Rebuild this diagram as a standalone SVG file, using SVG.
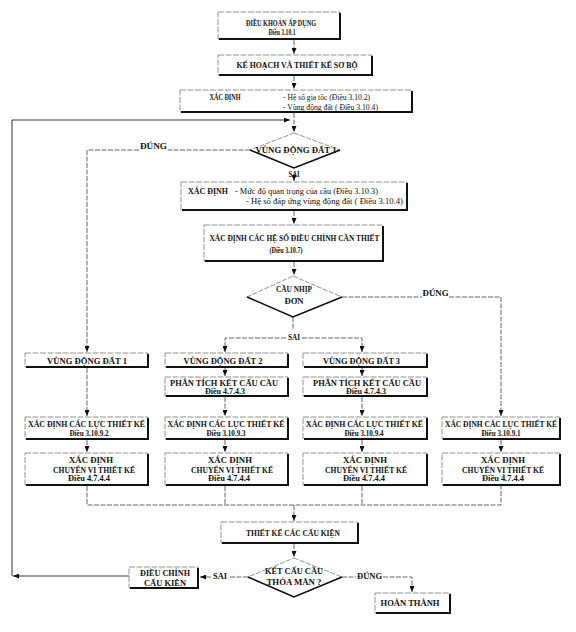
<svg xmlns="http://www.w3.org/2000/svg" width="576" height="632" viewBox="0 0 576 632">
<defs>
<marker id="ar" markerUnits="userSpaceOnUse" markerWidth="6" markerHeight="5" refX="6" refY="2.5" orient="auto"><path d="M0,0 L6,2.5 L0,5 z" fill="#111"/></marker>
<style>
.bx{fill:#fff;stroke:#777;stroke-width:0.8;stroke-dasharray:6 1.5}
.sh{fill:none;stroke:#111;stroke-width:2}
.ln{fill:none;stroke:#555;stroke-width:0.9;stroke-dasharray:5 1.5}
.lp{fill:none;stroke:#333;stroke-width:1}
.dm{fill:#fff;stroke:#777;stroke-width:0.8;stroke-dasharray:5 1.5}
.db{fill:none;stroke:#111;stroke-width:1.5}
text{font-family:"Liberation Serif","Times New Roman",serif;fill:#111;text-anchor:middle;font-weight:bold;font-size:8.5px}
.s{font-size:7.5px}
.l{text-anchor:start;font-weight:normal;font-size:8px}
</style>
</defs>
<rect width="576" height="632" fill="#fff"/>

<g id="connectors">
<path class="ln" d="M294,40 V54" marker-end="url(#ar)"/>
<path class="ln" d="M294,76 V89" marker-end="url(#ar)"/>
<path class="ln" d="M294,113 V132" marker-end="url(#ar)"/>
<path class="lp" d="M129,576 H13" marker-end="url(#ar)"/>
<path class="lp" d="M12,576 V120 H290" marker-end="url(#ar)"/>
<path class="ln" d="M250,150 H168"/>
<path class="ln" d="M139,150 H87 V352" marker-end="url(#ar)"/>
<path class="ln" d="M294,178 V181" marker-end="url(#ar)"/>
<path class="ln" d="M294,211 V224" marker-end="url(#ar)"/>
<path class="ln" d="M294,262 V275" marker-end="url(#ar)"/>
<path class="ln" d="M342,297 H422"/>
<path class="ln" d="M449,297 H501 V416" marker-end="url(#ar)"/>
<path class="ln" d="M293,317 V330"/>
<path class="ln" d="M286,338 H225 V352" marker-end="url(#ar)"/>
<path class="ln" d="M302,338 H362 V352" marker-end="url(#ar)"/>
<path class="ln" d="M87,368 V416" marker-end="url(#ar)"/>
<path class="ln" d="M87,440 V452" marker-end="url(#ar)"/>
<path class="ln" d="M225,368 V376" marker-end="url(#ar)"/>
<path class="ln" d="M225,397 V416" marker-end="url(#ar)"/>
<path class="ln" d="M225,440 V452" marker-end="url(#ar)"/>
<path class="ln" d="M362,368 V376" marker-end="url(#ar)"/>
<path class="ln" d="M362,397 V416" marker-end="url(#ar)"/>
<path class="ln" d="M362,440 V452" marker-end="url(#ar)"/>
<path class="ln" d="M501,440 V452" marker-end="url(#ar)"/>
<path class="ln" d="M87,486 V505 H501 V486 M225,486 V505 M362,486 V505"/>
<path class="ln" d="M294,505 V521" marker-end="url(#ar)"/>
<path class="ln" d="M294,544 V557" marker-end="url(#ar)"/>
<path class="ln" d="M248,577 H229"/>
<path class="ln" d="M211,577 H200" marker-end="url(#ar)"/>
<path class="ln" d="M342,577 H356"/>
<path class="ln" d="M383,577 H412 V592" marker-end="url(#ar)"/>
<text x="153.5" y="149" textLength="27" lengthAdjust="spacingAndGlyphs">ĐÚNG</text>
<text x="294" y="177" textLength="11" lengthAdjust="spacingAndGlyphs">SAI</text>
<text x="435.5" y="296" textLength="26" lengthAdjust="spacingAndGlyphs">ĐÚNG</text>
<text x="294" y="340" textLength="12" lengthAdjust="spacingAndGlyphs">SAI</text>
<text x="220" y="579" textLength="14" lengthAdjust="spacingAndGlyphs">SAI</text>
<text x="369.5" y="579" textLength="25" lengthAdjust="spacingAndGlyphs">ĐÚNG</text>
</g>

<g id="n1">
<rect class="bx" x="218" y="12" width="122" height="27"/>
<path class="sh" d="M340,13 V39 H219"/>
<text x="281" y="26" textLength="70" lengthAdjust="spacingAndGlyphs">ĐIỀU KHOẢN ÁP DỤNG</text>
<text class="s" x="282" y="34.5" textLength="27" lengthAdjust="spacingAndGlyphs">Điều 3.10.1</text>
</g>

<g id="n2">
<rect class="bx" x="218" y="55" width="154" height="20"/>
<path class="sh" d="M372,56 V75 H219"/>
<text x="297" y="68" textLength="121" lengthAdjust="spacingAndGlyphs">KẾ HOẠCH VÀ THIẾT KẾ SƠ BỘ</text>
</g>

<g id="n3">
<rect class="bx" x="180" y="90" width="232" height="22"/>
<path class="sh" d="M412,91 V112 H181"/>
<text x="225" y="100" textLength="31" lengthAdjust="spacingAndGlyphs">XÁC ĐỊNH</text>
<text class="l" x="283" y="100" textLength="87" lengthAdjust="spacingAndGlyphs">- Hệ số gia tốc (Điều 3.10.2)</text>
<text class="l" x="283" y="109.5" textLength="95" lengthAdjust="spacingAndGlyphs">- Vùng động đất ( Điều 3.10.4)</text>
</g>

<g id="n4">
<polygon class="dm" points="294,133 340,150 294,168 250,150"/>
<path class="db" d="M250,150 L294,168 L340,150"/>
<text x="296" y="153" textLength="81" lengthAdjust="spacingAndGlyphs">VÙNG ĐỘNG ĐẤT 1</text>
</g>

<g id="n5">
<rect class="bx" x="181" y="182" width="226" height="28"/>
<path class="sh" d="M407,183 V210 H182"/>
<text x="188" y="194" style="text-anchor:start" textLength="40" lengthAdjust="spacingAndGlyphs">XÁC ĐỊNH</text>
<text class="l" x="235" y="194" textLength="143" lengthAdjust="spacingAndGlyphs">- Mức độ quan trọng của cầu (Điều 3.10.3)</text>
<text class="l" x="246" y="204" textLength="157" lengthAdjust="spacingAndGlyphs">- Hệ số đáp ứng vùng động đất ( Điều 3.10.4)</text>
</g>

<g id="n6">
<rect class="bx" x="204" y="225" width="179" height="36"/>
<path class="sh" d="M383,226 V261 H205"/>
<text x="294.5" y="241" textLength="170" lengthAdjust="spacingAndGlyphs">XÁC ĐỊNH CÁC HỆ SỐ ĐIỀU CHỈNH CẦN THIẾT</text>
<text class="s" x="286" y="253" textLength="33" lengthAdjust="spacingAndGlyphs">(Điều 3.10.7)</text>
</g>

<g id="n7">
<polygon class="dm" points="293,276 342,297 293,317 247,297"/>
<path class="db" d="M247,297 L293,317 L342,297"/>
<text x="294" y="292" textLength="36" lengthAdjust="spacingAndGlyphs">CẦU NHỊP</text>
<text x="294" y="304" textLength="19" lengthAdjust="spacingAndGlyphs">ĐƠN</text>
</g>

<g id="c1r1">
<rect class="bx" x="25" y="353" width="123" height="14"/>
<path class="sh" d="M148,354 V367 H26"/>
<text x="87" y="363.5" textLength="80" lengthAdjust="spacingAndGlyphs">VÙNG ĐỘNG ĐẤT 1</text>
</g>
<g id="c2r1">
<rect class="bx" x="165" y="353" width="123" height="14"/>
<path class="sh" d="M288,354 V367 H166"/>
<text x="223" y="363.5" textLength="79" lengthAdjust="spacingAndGlyphs">VÙNG ĐỘNG ĐẤT 2</text>
</g>
<g id="c3r1">
<rect class="bx" x="303" y="353" width="124" height="14"/>
<path class="sh" d="M427,354 V367 H304"/>
<text x="361.5" y="363.5" textLength="77" lengthAdjust="spacingAndGlyphs">VÙNG ĐỘNG ĐẤT 3</text>
</g>

<g id="c2r2">
<rect class="bx" x="165" y="377" width="123" height="19"/>
<path class="sh" d="M288,378 V396 H166"/>
<text x="224" y="386" textLength="108" lengthAdjust="spacingAndGlyphs">PHÂN TÍCH KẾT CẤU CẦU</text>
<text class="s" x="225" y="394" textLength="40" lengthAdjust="spacingAndGlyphs">Điều 4.7.4.3</text>
</g>
<g id="c3r2">
<rect class="bx" x="303" y="377" width="124" height="19"/>
<path class="sh" d="M427,378 V396 H304"/>
<text x="367" y="386" textLength="108" lengthAdjust="spacingAndGlyphs">PHÂN TÍCH KẾT CẤU CẦU</text>
<text class="s" x="366" y="394" textLength="40" lengthAdjust="spacingAndGlyphs">Điều 4.7.4.3</text>
</g>

<g id="c1r3">
<rect class="bx" x="25" y="417" width="123" height="22"/>
<path class="sh" d="M148,418 V439 H26"/>
<text x="86.5" y="427" textLength="117" lengthAdjust="spacingAndGlyphs">XÁC ĐỊNH CÁC LỰC THIẾT KẾ</text>
<text class="s" x="89" y="436" textLength="39" lengthAdjust="spacingAndGlyphs">Điều 3.10.9.2</text>
</g>
<g id="c2r3">
<rect class="bx" x="165" y="417" width="123" height="22"/>
<path class="sh" d="M288,418 V439 H166"/>
<text x="226" y="427" textLength="117" lengthAdjust="spacingAndGlyphs">XÁC ĐỊNH CÁC LỰC THIẾT KẾ</text>
<text class="s" x="226" y="436" textLength="39" lengthAdjust="spacingAndGlyphs">Điều 3.10.9.3</text>
</g>
<g id="c3r3">
<rect class="bx" x="303" y="417" width="124" height="22"/>
<path class="sh" d="M427,418 V439 H304"/>
<text x="364.5" y="427" textLength="117" lengthAdjust="spacingAndGlyphs">XÁC ĐỊNH CÁC LỰC THIẾT KẾ</text>
<text class="s" x="364" y="436" textLength="39" lengthAdjust="spacingAndGlyphs">Điều 3.10.9.4</text>
</g>
<g id="c4r3">
<rect class="bx" x="442" y="417" width="118" height="22"/>
<path class="sh" d="M560,418 V439 H443"/>
<text x="501" y="427" textLength="112" lengthAdjust="spacingAndGlyphs">XÁC ĐỊNH CÁC LỰC THIẾT KẾ</text>
<text class="s" x="501" y="436" textLength="39" lengthAdjust="spacingAndGlyphs">Điều 3.10.9.1</text>
</g>

<g id="c1r4">
<rect class="bx" x="25" y="453" width="123" height="32"/>
<path class="sh" d="M148,454 V485 H26"/>
<text x="91" y="463" textLength="44" lengthAdjust="spacingAndGlyphs">XÁC ĐỊNH</text>
<text x="94" y="472.5" textLength="82" lengthAdjust="spacingAndGlyphs">CHUYỂN VỊ THIẾT KẾ</text>
<text class="s" x="89" y="481" textLength="42" lengthAdjust="spacingAndGlyphs">Điều 4.7.4.4</text>
</g>
<g id="c2r4">
<rect class="bx" x="165" y="453" width="123" height="32"/>
<path class="sh" d="M288,454 V485 H166"/>
<text x="230" y="463" textLength="44" lengthAdjust="spacingAndGlyphs">XÁC ĐỊNH</text>
<text x="232" y="472.5" textLength="82" lengthAdjust="spacingAndGlyphs">CHUYỂN VỊ THIẾT KẾ</text>
<text class="s" x="229" y="481" textLength="42" lengthAdjust="spacingAndGlyphs">Điều 4.7.4.4</text>
</g>
<g id="c3r4">
<rect class="bx" x="303" y="453" width="124" height="32"/>
<path class="sh" d="M427,454 V485 H304"/>
<text x="365" y="463" textLength="44" lengthAdjust="spacingAndGlyphs">XÁC ĐỊNH</text>
<text x="366" y="472.5" textLength="82" lengthAdjust="spacingAndGlyphs">CHUYỂN VỊ THIẾT KẾ</text>
<text class="s" x="364" y="481" textLength="42" lengthAdjust="spacingAndGlyphs">Điều 4.7.4.4</text>
</g>
<g id="c4r4">
<rect class="bx" x="442" y="453" width="118" height="32"/>
<path class="sh" d="M560,454 V485 H443"/>
<text x="503" y="463" textLength="44" lengthAdjust="spacingAndGlyphs">XÁC ĐỊNH</text>
<text x="503" y="472.5" textLength="82" lengthAdjust="spacingAndGlyphs">CHUYỂN VỊ THIẾT KẾ</text>
<text class="s" x="503" y="481" textLength="42" lengthAdjust="spacingAndGlyphs">Điều 4.7.4.4</text>
</g>

<g id="n8">
<rect class="bx" x="221" y="522" width="137" height="21"/>
<path class="sh" d="M358,523 V543 H222"/>
<text x="293" y="535.5" textLength="94" lengthAdjust="spacingAndGlyphs">THIẾT KẾ CÁC CẤU KIỆN</text>
</g>

<g id="n9">
<polygon class="dm" points="294,558 342,577 294,597 248,577"/>
<path class="db" d="M248,577 L294,597 L342,577"/>
<text x="294" y="574" textLength="58" lengthAdjust="spacingAndGlyphs">KẾT CẤU CẦU</text>
<text x="294" y="584.5" textLength="55" lengthAdjust="spacingAndGlyphs">THỎA MÃN ?</text>
</g>

<g id="n10">
<rect class="bx" x="129" y="567" width="69" height="21"/>
<path class="sh" d="M198,568 V588 H130"/>
<text x="165" y="576" textLength="50" lengthAdjust="spacingAndGlyphs">ĐIỀU CHỈNH</text>
<text x="165" y="585.5" textLength="42" lengthAdjust="spacingAndGlyphs">CẤU KIỆN</text>
</g>

<g id="n11">
<rect class="bx" x="375" y="593" width="75" height="20"/>
<path class="sh" d="M450,594 V613 H376"/>
<text x="410" y="606" textLength="59" lengthAdjust="spacingAndGlyphs">HOÀN THÀNH</text>
</g>
</svg>
